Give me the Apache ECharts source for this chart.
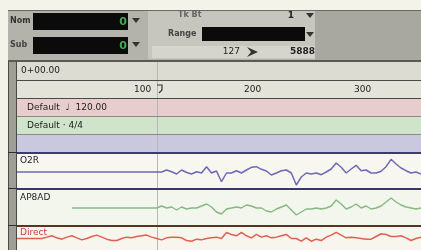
<!DOCTYPE html>
<html><head><meta charset="utf-8">
<script src="https://cdn.jsdelivr.net/npm/echarts@6/dist/echarts.min.js"></script>
<style>html,body{margin:0;padding:0;background:#f4f3ea}#c{width:421px;height:250px}</style>
</head><body><div id="c"></div>
<script>
// ---- data ----
const rulerTicks = [100, 200, 300];
const rulerRange = [0, 360];
const timeLabel = '0+00.00';
const tempoLabel = 'Default  \u2669  120.00';
const meterLabel = 'Default \u00b7 4/4';
const trackNames = ['O2R', 'AP8AD', 'Direct'];
const fieldLabels = ['Nom', 'Sub', 'Tk Bt', 'Range'];
const fieldValues = ['0', '0', '1'];
const rangeStart = '127';
const rangeEnd = '5888';
// waveform samples (deflection from track centre), one per sample step across the track
const o2rWave = [0,0,0,0,0,0,0,0,0,0,0,0,0,0,0,0,0,0,0,0,0,0,0,0,0,0,0,0,0,
  0,2,0.3,-2,2,-0.5,-2,0.3,-1,5.3,-1,1,-9.7,-1,-1,1.3,-1,2,4.7,5.3,2.7,1,-3,-1,
  1.3,2,-1,-13,-5,-1,-2,-1,-2.7,0,3,9,4.7,-1,3,6.7,1.3,2,-1,-1,0.7,5.3,12.7,8,4,1.3,-1,0,-2];
const ap8adWave = [null,null,null,null,null,null,null,null,null,null,null,
  0,0,0,0,0,0,0,0,0,0,0,0,0,0,0,0,0,0,
  2,0,1,-2,1,-1,0,0,2,4,1,-4,-6,-1,0,1,0,3,2,0,0,-3,-4,-1,
  1,3,-2,-7,-4,-1,-1,0,-1,0,2,8,4,-1,1,4,0,2,-1,0,2,6,10,6,3,1,0,-1,0];
const directWave = [0,0,0,0,0,0,2,4,1,-1,2,4,1,-2,0,3,5,2,-1,-3,-3,0,2,1,3,4,5,2,0,
  -2,1,2,2,1,-3,-4,-1,-2,0,1,2,0,9,6,4,9,4,1,6,2,4,1,2,
  4,6,0,0,-4,1,-4,-1,-3,2,5,9,5,1,2,1,0,-1,-1,3,7,6,3,3,4,1,-3,0,2];
const sampleIdx = o2rWave.map((_, i) => i);

// ---- graphic helpers ----
const g = [];
function rect(x, y, w, h, fill, z) { g.push({type:'rect', shape:{x, y, width:w, height:h}, style:{fill}, z: z||0, silent:true}); }
function txt(x, y, s, o) { o = o||{}; g.push({type:'text', x, y, z:20, silent:true,
  style:{text:s, fill:o.fill||'#222', font:o.font||'9px "DejaVu Sans"', align:o.align||'left', verticalAlign:'middle'}}); }
function tri(x, y) { g.push({type:'polygon', shape:{points:[[x-4,y-2],[x+4,y-2],[x,y+3]]}, style:{fill:'#333'}, z:20, silent:true}); }

// top control panel
rect(8, 10, 413, 51, '#b4b3ab');
rect(148, 11, 167, 48, '#c7c6be', 1);
rect(315, 11, 106, 49, '#a9a8a0', 1);
rect(152, 46, 163, 12, '#d6d5cd', 2);
rect(8, 10, 413, 1, '#6a6a64', 3);
rect(8, 60, 413, 2, '#5a5a55', 3);
txt(10, 21, fieldLabels[0], {font:'bold 8px "DejaVu Sans"', fill:'#333'});
txt(10, 45, fieldLabels[1], {font:'bold 8px "DejaVu Sans"', fill:'#444'});
rect(33, 13, 95, 17, '#0b0b0b', 4);
rect(33, 37, 95, 17, '#0b0b0b', 4);
txt(127, 22, fieldValues[0], {align:'right', font:'bold 11px "DejaVu Sans"', fill:'#44a850'});
txt(127, 46, fieldValues[1], {align:'right', font:'bold 11px "DejaVu Sans"', fill:'#44a850'});
tri(136, 20); tri(136, 44);
txt(178, 15, fieldLabels[2], {font:'bold 8px "DejaVu Sans"', fill:'#666'});
txt(294, 16, fieldValues[2], {align:'right', font:'bold 9px "DejaVu Sans"', fill:'#222'});
tri(310, 15);
txt(168, 34, fieldLabels[3], {font:'bold 8px "DejaVu Sans"', fill:'#444'});
rect(202, 27, 103, 14, '#0b0b0b', 4);
tri(310, 34);
txt(240, 52, rangeStart, {align:'right', font:'9px "DejaVu Sans"', fill:'#222'});
g.push({type:'polygon', shape:{points:[[247,47],[258,52],[247,57],[251,52]]}, style:{fill:'#333'}, z:20, silent:true});
txt(315, 52, rangeEnd, {align:'right', font:'bold 9px "DejaVu Sans"', fill:'#222'});

// timeline rows
rect(8, 62, 9, 188, '#9e9d96', 1);
rect(8, 62, 1, 188, '#4a4a46', 2);
rect(16, 62, 1, 188, '#4a4a46', 2);
rect(17, 62, 404, 18, '#dddcd3');
rect(17, 80, 404, 18, '#e4e3d9');
rect(17, 80, 404, 1, '#4a4a46', 3);
rect(17, 98, 404, 1, '#4a4a46', 3);
rect(17, 99, 404, 17, '#e8cdce');
rect(17, 116, 404, 1, '#8a8a84', 3);
rect(17, 117, 404, 17, '#cfe4cb');
rect(17, 134, 404, 1, '#8a8a84', 3);
rect(17, 135, 404, 17, '#cac8df');
rect(17, 152, 404, 2, '#3b3a72', 3);
rect(17, 154, 404, 34, '#f7f7ef');
rect(17, 188, 404, 2, '#38376e', 3);
rect(17, 190, 404, 35, '#f3f6ec');
rect(17, 225, 404, 2, '#5a3522', 3);
rect(17, 227, 404, 23, '#f8f4ee');
[152, 188, 225].forEach(y => rect(8, y, 9, 1, '#303030', 3));
rect(157, 62, 1, 188, '#b8b8b0', 1);
g.push({type:'polyline', shape:{points:[[157,85],[162,85],[162,90],[159,93]]}, style:{stroke:'#333', lineWidth:1.2, fill:null}, z:20, silent:true});
txt(21, 71, timeLabel, {font:'9px "DejaVu Sans"'});
txt(27, 108, tempoLabel, {font:'9px "DejaVu Sans"'});
txt(27, 126, meterLabel, {font:'9px "DejaVu Sans"'});
txt(20, 161, trackNames[0], {font:'9px "DejaVu Sans"'});
txt(20, 198, trackNames[1], {font:'9px "DejaVu Sans"'});
txt(20, 233, trackNames[2], {font:'9px "DejaVu Sans"', fill:'#cc3b3b'});

const chart = echarts.init(document.getElementById('c'), null, {renderer:'canvas'});
const waveGrid = top => ({left:17, right:0, top, height:34});
const hideCat = gi => ({type:'category', gridIndex:gi, data:sampleIdx, boundaryGap:false, show:false});
const hideVal = gi => ({type:'value', gridIndex:gi, min:-17, max:17, show:false});
chart.setOption({
  animation:false,
  backgroundColor:'#f4f3ea',
  graphic:{elements:g},
  grid:[{left:22, right:0, top:81, height:17}, waveGrid(155), waveGrid(191), waveGrid(227)],
  xAxis:[
    {type:'value', gridIndex:0, min:rulerRange[0], max:rulerRange[1], interval:100, z:30,
     axisLine:{show:false}, axisTick:{show:false}, splitLine:{show:false},
     axisLabel:{inside:true, margin:8, align:'left', verticalAlign:'middle', padding:[0,0,0,2],
       fontSize:9, fontFamily:'DejaVu Sans', color:'#222',
       formatter: v => rulerTicks.includes(v) ? String(v) : ''}},
    hideCat(1), hideCat(2), hideCat(3)
  ],
  yAxis:[{type:'value', gridIndex:0, show:false}, hideVal(1), hideVal(2), hideVal(3)],
  series:[
    {type:'line', xAxisIndex:1, yAxisIndex:1, data:o2rWave, symbol:'none', z:10,
     lineStyle:{color:'#6d69b8', width:1.5}},
    {type:'line', xAxisIndex:2, yAxisIndex:2, data:ap8adWave, symbol:'none', z:10,
     lineStyle:{color:'#86b882', width:1.4}},
    {type:'line', xAxisIndex:3, yAxisIndex:3, data:directWave, symbol:'none', z:10,
     lineStyle:{color:'#e0604f', width:1.5}}
  ]
});
</script></body></html>
